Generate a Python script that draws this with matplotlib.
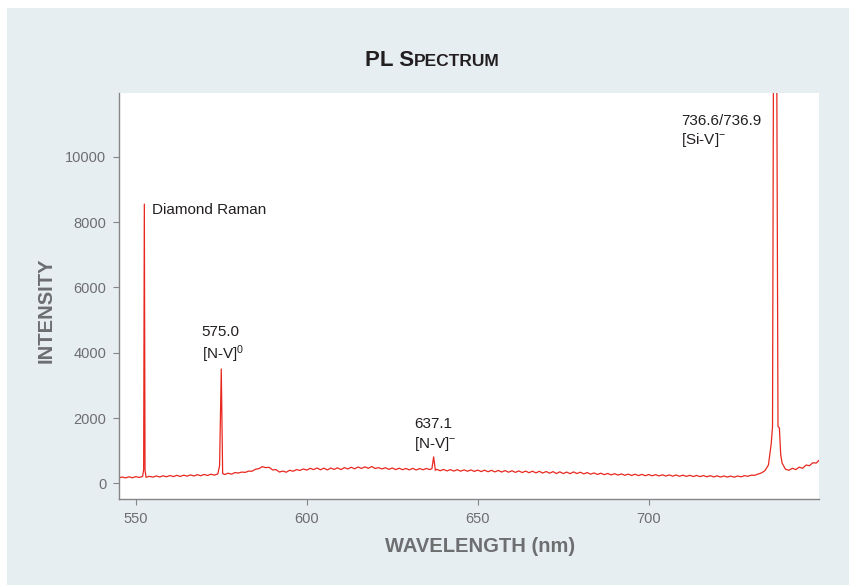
import matplotlib
matplotlib.use("Agg")
import matplotlib.pyplot as plt
from matplotlib.patches import Rectangle

# wavelength (nm) and PL intensity
wavelength = [
    545, 546, 547, 548, 549, 550, 551, 552, 552.3, 552.5, 552.7, 553, 554, 555, 556, 557, 558, 559,
    560, 561, 562, 563, 564, 565, 566, 567, 568, 569, 570, 571, 572, 573, 574, 574.5, 575.0, 575.4,
    576, 577, 578, 579, 580, 581, 582, 583, 584, 585, 586, 587, 588, 589, 590, 591, 592, 593, 594,
    595, 596, 597, 598, 599, 600, 601, 602, 603, 604, 605, 606, 607, 608, 609, 610, 611, 612, 613,
    614, 615, 616, 617, 618, 619, 620, 621, 622, 623, 624, 625, 626, 627, 628, 629, 630, 631, 632,
    633, 634, 635, 636, 636.6, 637.1, 637.6, 638, 639, 640, 641, 642, 643, 644, 645, 646, 647, 648,
    649, 650, 651, 652, 653, 654, 655, 656, 657, 658, 659, 660, 661, 662, 663, 664, 665, 666, 667,
    668, 669, 670, 671, 672, 673, 674, 675, 676, 677, 678, 679, 680, 681, 682, 683, 684, 685, 686,
    687, 688, 689, 690, 691, 692, 693, 694, 695, 696, 697, 698, 699, 700, 701, 702, 703, 704, 705,
    706, 707, 708, 709, 710, 711, 712, 713, 714, 715, 716, 717, 718, 719, 720, 721, 722, 723, 724,
    725, 726, 727, 728, 729, 730, 731, 732, 733, 734, 735, 735.8, 736.2, 736.5, 737.4, 737.8, 738.2,
    738.6, 739, 740, 741, 742, 743, 744, 745, 746, 747, 748, 749, 750,
]
intensity = [
    160, 195, 165, 200, 170, 205, 180, 210, 420, 8550, 400,
    185, 215, 190, 225, 195, 230, 200, 240, 205, 245, 210, 250, 220, 258, 225, 265, 232, 272, 240,
    280, 250, 290, 540, 3500, 300,
    270, 310, 280, 330, 315, 345, 335, 375, 370, 430, 450, 510, 480, 490, 410, 420, 345, 375, 340,
    400, 370, 420, 395, 440, 405, 460, 420, 470, 415, 465, 410, 468, 425, 475, 420, 480, 440, 492,
    445, 500, 455, 505, 460, 515, 455, 480, 440, 478, 428, 470, 420, 462, 418, 455, 412, 458, 410,
    452, 415, 455, 420, 450, 810, 400,
    430, 385, 425, 380, 420, 375, 418, 372, 412, 370, 410, 365, 405, 360, 402, 355, 398, 350, 395,
    345, 390, 340, 385, 335, 380, 330, 375, 325, 372, 320, 368, 315, 362, 310, 358, 300, 352, 298,
    345, 295, 350, 300, 340, 290, 330, 280, 318, 272, 310, 265, 302, 258, 295, 252, 288, 246, 282,
    240, 278, 236, 275, 232, 270, 230, 266, 226, 262, 222, 258, 220, 255, 216, 250, 212, 246, 208,
    242, 205, 238, 200, 235, 196, 230, 192, 226, 190, 222, 188, 225, 198, 235, 215, 250, 245, 285,
    320, 390, 560, 1200, 1730, 14000, 14000, 1740, 1700, 870,
    620, 430, 400, 460, 420, 495, 460, 560, 540, 630, 620, 730,
]

x_ticks = [550, 600, 650, 700]
y_ticks = [0, 2000, 4000, 6000, 8000, 10000]

# peak labels: (x, y, text)
label_x = [554.8, 569.3, 631.3, 709.4]
label_y = [8370, 4235, 1480, 10770]
label_text = ["Diamond Raman", "575.0\n[N-V]$^{0}$", "637.1\n[N-V]$^{-}$", "736.6/736.9\n[Si-V]$^{-}$"]

plt.rcParams["font.family"] = ["Liberation Sans", "DejaVu Sans"]
plt.rcParams["mathtext.fontset"] = "custom"
plt.rcParams["mathtext.rm"] = "Liberation Sans"
plt.rcParams["mathtext.it"] = "Liberation Sans"
plt.rcParams["mathtext.default"] = "rm"

fig = plt.figure(figsize=(8.49, 5.85), dpi=100, facecolor="white")
fig.patches.append(Rectangle((0.0082, 0), 1, 0.9863, transform=fig.transFigure,
                             facecolor="#e7eef2", edgecolor="none", zorder=-10))

ax = fig.add_axes([0.1398, 0.147, 0.8249, 0.6945])
ax.set_facecolor("white")
ax.plot(wavelength, intensity, color="#e8281e", linewidth=0.9)
ax.set_xlim(545, 749.8)
ax.set_ylim(-480, 11960)
ax.set_xticks(x_ticks)
ax.set_yticks(y_ticks)
for s in ["top", "right"]:
    ax.spines[s].set_visible(False)
for s in ["left", "bottom"]:
    ax.spines[s].set_color("#858585")
    ax.spines[s].set_linewidth(1.0)
ax.tick_params(direction="out", length=4, width=0.8, color="#858585",
               labelcolor="#6d6e70", labelsize=10.5, pad=5)

for lx, ly, lt in zip(label_x, label_y, label_text):
    ax.text(lx, ly, lt, fontsize=11, color="#231f20", ha="left", va="center",
            linespacing=1.25)

# axis labels
fig.text(480 / 849, 1 - 546 / 585, "WAVELENGTH (nm)", ha="center", va="center",
         fontsize=14.5, fontweight="bold", color="#6d6e70")
fig.text(46 / 849, 1 - 310 / 585, "INTENSITY", ha="center", va="center", rotation=90,
         fontsize=14.5, fontweight="bold", color="#6d6e70")

# title in small caps
t1 = fig.text(0, 1 - 66 / 585, "PL S", fontsize=16, fontweight="bold",
              color="#231f20", va="baseline")
t2 = fig.text(0, 1 - 66 / 585, "PECTRUM", fontsize=12.5, fontweight="bold",
              color="#231f20", va="baseline")
fig.canvas.draw()
r = fig.canvas.get_renderer()
w1 = t1.get_window_extent(r).width
w2 = t2.get_window_extent(r).width
x0 = 432 - (w1 + w2) / 2
t1.set_x(x0 / 849)
t2.set_x((x0 + w1) / 849)

fig.savefig("out.png", dpi=100, facecolor=fig.get_facecolor())
